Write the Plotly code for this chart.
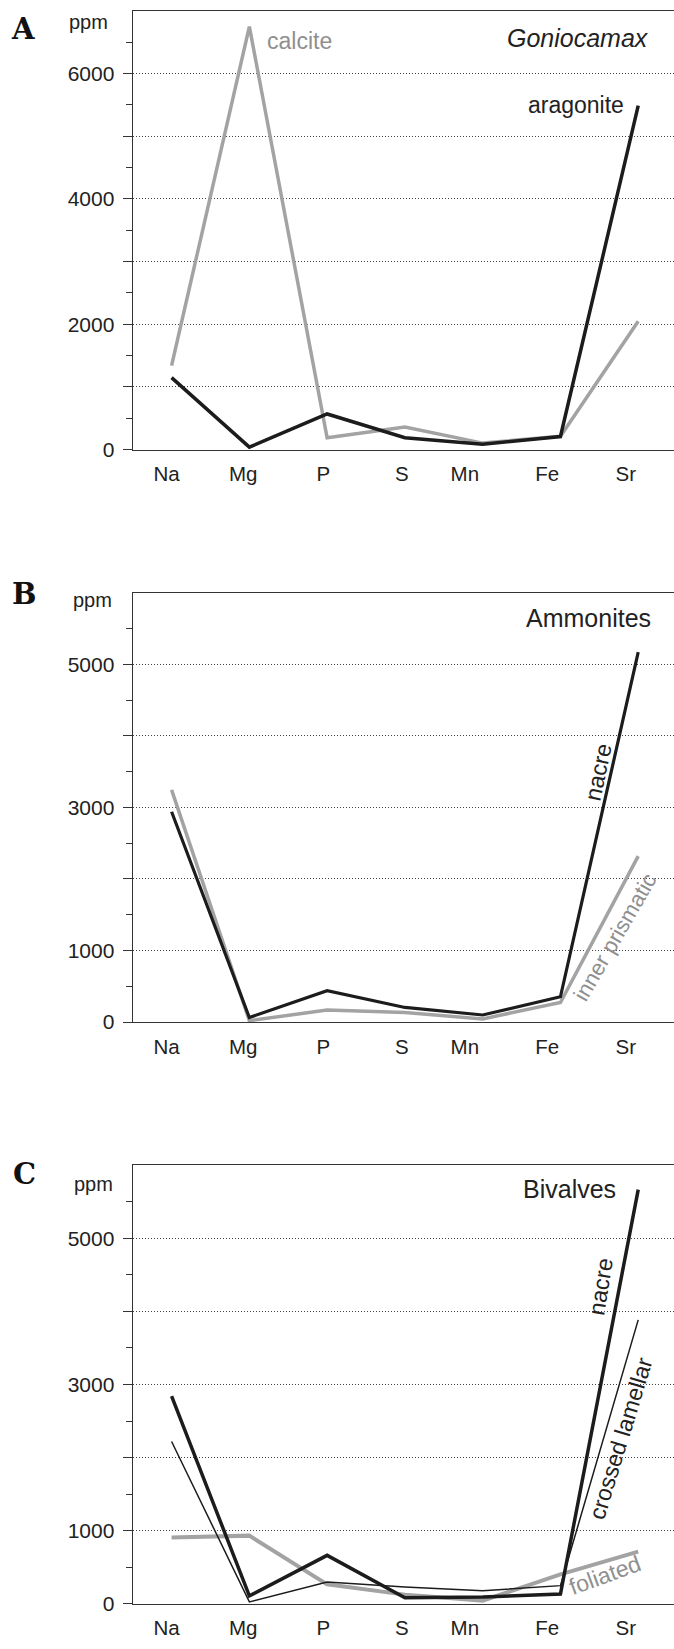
import plotly.graph_objects as go

# ---------------- data ----------------
elements = ["Na", "Mg", "P", "S", "Mn", "Fe", "Sr"]

goniocamax_calcite = [1340, 6750, 190, 360, 105, 215, 2050]
goniocamax_aragonite = [1150, 40, 570, 190, 85, 210, 5490]

ammonites_nacre = [2940, 65, 440, 205, 100, 355, 5170]
ammonites_inner_prismatic = [3245, 20, 170, 135, 45, 275, 2320]

bivalves_nacre = [2840, 105, 660, 80, 90, 130, 5670]
bivalves_crossed_lamellar = [2220, 23, 295, 225, 175, 245, 3885]
bivalves_foliated = [905, 930, 263, 122, 40, 400, 710]

panel_A_ticks = [0, 1000, 2000, 3000, 4000, 5000, 6000]
panel_A_labels = ["0", "", "2000", "", "4000", "", "6000"]
panel_BC_ticks = [0, 1000, 2000, 3000, 4000, 5000]
panel_BC_labels = ["0", "1000", "", "3000", "", "5000"]

# ---------------- layout helpers ----------------
W, H = 674, 1649
FONT = "Liberation Sans, Arial, sans-serif"
BLACK = "#1c1c1c"
GRAY = "#a3a3a3"
TXT = "#222222"

def px(x):
    return x / W

def py(y):
    return (H - y) / H

xpos = list(range(len(elements)))
label_offsets = [-0.065, -0.08, -0.05, -0.04, -0.23, -0.17, -0.16]
label_pos = [i + o for i, o in zip(xpos, label_offsets)]

x_left, x_right = 132.7, 674
panels = {
    # name: (top px, bottom px, ymax)
    "A": (11, 452.7, 7000),
    "B": (596.7, 1029, 6000),
    "C": (1173.3, 1614.3, 6000),
}

fig = go.Figure()

def add_line(xaxis, yaxis, ys, color, width):
    fig.add_trace(go.Scatter(
        x=xpos, y=ys, mode="lines", xaxis=xaxis, yaxis=yaxis,
        line=dict(color=color, width=width), hoverinfo="skip",
        showlegend=False, cliponaxis=False,
    ))

# Panel A
add_line("x", "y", goniocamax_calcite, GRAY, 3.5)
add_line("x", "y", goniocamax_aragonite, BLACK, 3.5)
# Panel B
add_line("x2", "y2", ammonites_inner_prismatic, GRAY, 3.5)
add_line("x2", "y2", ammonites_nacre, BLACK, 3.2)
# Panel C
add_line("x3", "y3", bivalves_foliated, GRAY, 4)
add_line("x3", "y3", bivalves_crossed_lamellar, BLACK, 1.5)
add_line("x3", "y3", bivalves_nacre, BLACK, 3.5)

axis_line = dict(showline=True, linecolor="#333333", linewidth=1.3)

def xaxis_cfg():
    return dict(
        domain=[px(x_left), 1], range=[-0.5, 6.46],
        tickmode="array", tickvals=label_pos, ticktext=elements,
        ticks="", showgrid=False, zeroline=False, mirror=True,
        tickfont=dict(family=FONT, size=20.5, color=TXT),
        ticklabelstandoff=6,
        **axis_line,
    )

def yaxis_cfg(name, tickvals, ticktext, anchor):
    top, bottom, ymax = panels[name]
    minor_vals = [v + 500 for v in range(0, ymax, 1000)]
    return dict(
        domain=[py(bottom), py(top)], range=[0, ymax], anchor=anchor,
        tickmode="array", tickvals=tickvals, ticktext=ticktext,
        ticks="outside", ticklen=9, tickwidth=1.2, tickcolor="#333333",
        minor=dict(tickvals=minor_vals, ticks="outside", ticklen=6,
                   tickwidth=1.2, tickcolor="#333333", showgrid=False),
        showgrid=True, gridcolor="#444444", gridwidth=1, griddash="1px,2px",
        zeroline=False, mirror=False,
        tickfont=dict(family=FONT, size=21, color=TXT),
        ticklabelstandoff=4,
        **axis_line,
    )

fig.update_layout(
    width=W, height=H, margin=dict(l=0, r=0, t=0, b=0),
    paper_bgcolor="white", plot_bgcolor="white",
    xaxis=dict(anchor="y", **xaxis_cfg()),
    xaxis2=dict(anchor="y2", **xaxis_cfg()),
    xaxis3=dict(anchor="y3", **xaxis_cfg()),
    yaxis=yaxis_cfg("A", panel_A_ticks, panel_A_labels, "x"),
    yaxis2=yaxis_cfg("B", panel_BC_ticks, panel_BC_labels, "x2"),
    yaxis3=yaxis_cfg("C", panel_BC_ticks, panel_BC_labels, "x3"),
)

def note(text, x, y, size=23, color=TXT, xanchor="center", yanchor="middle",
         angle=0, family=FONT):
    fig.add_annotation(
        text=text, x=px(x), y=py(y), xref="paper", yref="paper",
        showarrow=False, xanchor=xanchor, yanchor=yanchor, textangle=angle,
        font=dict(family=family, size=size, color=color),
    )

SERIF = "DejaVu Serif, Liberation Serif, serif"
# panel letters
note("<b>A</b>", 23, 29, size=29, color="#111111", family=SERIF)
note("<b>B</b>", 25, 598, size=29, color="#111111", family=SERIF)
note("<b>C</b>", 25, 1182, size=29, color="#111111", family=SERIF)
# ppm labels
note("ppm", 88, 22, size=20)
note("ppm", 92, 604, size=20)
note("ppm", 93, 1192, size=20)

# Panel A texts
note("<i>Goniocamax</i>", 651, 38, size=25, xanchor="right")
note("calcite", 265, 41, size=23, color="#8f8f8f", xanchor="left")
note("aragonite", 626, 106, size=23, xanchor="right")

# Panel B texts
note("Ammonites", 653, 622, size=25, xanchor="right")
note("nacre", 598, 777, size=23, angle=-78)
note("inner prismatic", 615, 944, size=22, color="#8f8f8f", angle=-60)

# Panel C texts
note("Bivalves", 618, 1197, size=25, xanchor="right")
note("nacre", 601, 1295, size=23, angle=-81)
note("crossed lamellar", 621, 1448, size=23, angle=-73)
note("foliated", 605, 1586, size=23, color="#8f8f8f", angle=-20)

fig.write_html("out.html")
